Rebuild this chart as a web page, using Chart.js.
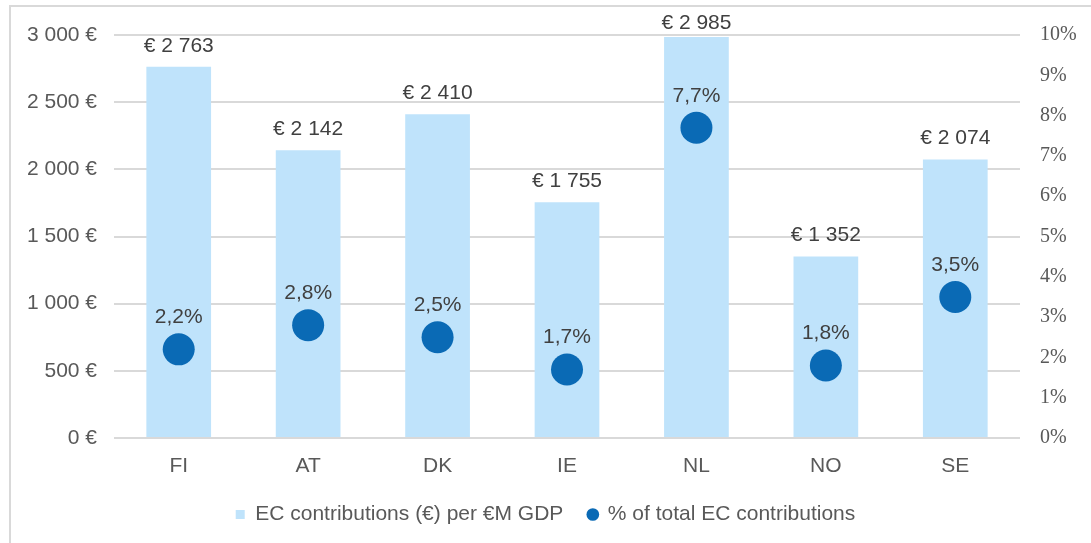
<!DOCTYPE html>
<html>
<head>
<meta charset="utf-8">
<script src="https://cdn.jsdelivr.net/npm/chart.js@4.4.1/dist/chart.umd.min.js"></script>
<style>
  html, body { margin: 0; padding: 0; background: #fff; }
  #wrap { position: relative; width: 1091px; height: 543px; overflow: hidden; }
  #frame { position: absolute; left: 9px; top: 5px; width: 1200px; height: 700px; border: 2px solid #d9d9d9; }
  #graficoMixto { position: absolute; left: 0; top: 0; }
</style>
</head>
<body>
<div id="wrap">
  <div id="frame"></div>
  <canvas id="graficoMixto" width="1091" height="543"></canvas>
</div>
<script>
var paises = ['FI', 'AT', 'DK', 'IE', 'NL', 'NO', 'SE'];
var contribPorPib = [2763, 2142, 2410, 1755, 2985, 1352, 2074];
var pctContrib = [2.2, 2.8, 2.5, 1.7, 7.7, 1.8, 3.5];
var ticksEuro = [0, 500, 1000, 1500, 2000, 2500, 3000];
var ticksPct = [0, 1, 2, 3, 4, 5, 6, 7, 8, 9, 10];

var fuente = '"Liberation Sans", Arial, sans-serif';

function miles(n) {
  return String(n).replace(/\B(?=(\d{3})+(?!\d))/g, ' ');
}

// etiquetas de datos (no hay plugin datalabels)
var etiquetas = {
  id: 'etiquetas',
  afterDatasetsDraw: function(chart) {
    var ctx = chart.ctx;
    ctx.save();
    ctx.font = '21px ' + fuente;
    ctx.fillStyle = '#404040';
    ctx.textAlign = 'center';
    ctx.textBaseline = 'alphabetic';

    chart.getDatasetMeta(0).data.forEach(function(el, i) {
      var y = Math.max(el.y - 15, 29);
      ctx.fillText('€ ' + miles(contribPorPib[i]), el.x, y);
    });
    chart.getDatasetMeta(1).data.forEach(function(el, i) {
      ctx.fillText(String(pctContrib[i]).replace('.', ',') + '%', el.x, el.y - 26);
    });
    ctx.restore();
  }
};

var ctx = document.getElementById('graficoMixto').getContext('2d');
var grafico = new Chart(ctx, {
  type: 'bar',
  data: {
    labels: paises,
    datasets: [{
      type: 'bar',
      label: 'EC contributions (€) per €M GDP',
      data: contribPorPib,
      backgroundColor: '#bfe3fb',
      borderWidth: 0,
      yAxisID: 'y',
      categoryPercentage: 1,
      barPercentage: 0.5,
      pointStyle: 'rect',
      order: 1
    }, {
      type: 'line',
      label: '% of total EC contributions',
      data: pctContrib,
      yAxisID: 'y1',
      showLine: false,
      pointRadius: 16,
      pointHoverRadius: 16,
      pointBackgroundColor: '#0a6ab5',
      pointBorderWidth: 0,
      backgroundColor: '#0a6ab5',
      borderColor: '#0a6ab5',
      pointStyle: 'circle',
      order: 0
    }]
  },
  options: {
    responsive: false,
    animation: false,
    layout: { padding: { top: 35, bottom: 8, left: 0, right: 0 } },
    plugins: {
      tooltip: { enabled: false },
      legend: {
        position: 'bottom',
        labels: {
          usePointStyle: true,
          boxWidth: 9,
          boxHeight: 9,
          padding: 25,
          color: '#595959',
          font: { family: fuente, size: 21 },
          sort: function(a, b) { return a.datasetIndex - b.datasetIndex; }
        }
      }
    },
    scales: {
      x: {
        offset: true,
        grid: { display: false },
        border: { display: false },
        ticks: {
          color: '#595959',
          padding: 8,
          font: { family: fuente, size: 21 }
        },
        afterFit: function(scale) { scale.height = 41; }
      },
      y: {
        position: 'left',
        min: 0,
        max: 3000,
        afterBuildTicks: function(scale) {
          scale.ticks = ticksEuro.map(function(v) { return { value: v }; });
        },
        grid: { color: '#d9d9d9', lineWidth: 2, drawTicks: false },
        border: { display: false },
        ticks: {
          color: '#595959',
          padding: 17,
          font: { family: fuente, size: 21 },
          callback: function(v) { return miles(v) + ' €'; }
        },
        afterFit: function(scale) { scale.width = 114; }
      },
      y1: {
        position: 'right',
        min: 0,
        max: 10,
        afterBuildTicks: function(scale) {
          scale.ticks = ticksPct.map(function(v) { return { value: v }; });
        },
        grid: { display: false, drawOnChartArea: false },
        border: { display: false },
        ticks: {
          color: '#595959',
          padding: 12,
          font: { family: '"Liberation Serif", "DejaVu Serif", serif', size: 20 },
          callback: function(v) { return v + '%'; }
        },
        afterFit: function(scale) { scale.width = 71; }
      }
    }
  },
  plugins: [etiquetas]
});
</script>
</body>
</html>
